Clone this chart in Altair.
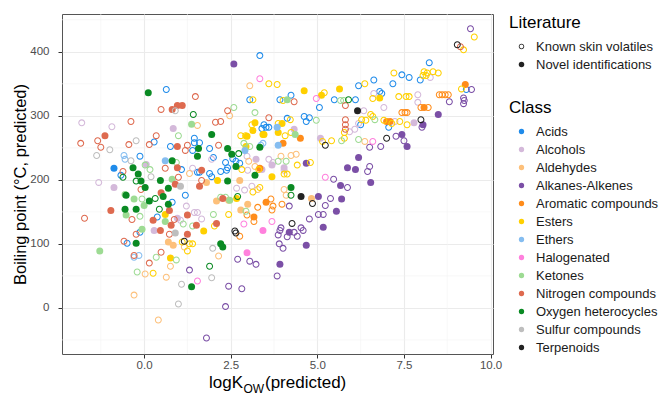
import altair as alt
import pandas as pd

CLASSES = ["Acids", "Alcohols", "Aldehydes", "Alkanes-Alkenes", "Aromatic compounds",
           "Esters", "Ethers", "Halogenated", "Ketones", "Nitrogen compounds",
           "Oxygen heterocycles", "Sulfur compounds", "Terpenoids"]
COLORS = ["#1F8BEA", "#D4B9DA", "#FDC07A", "#7B4FA6", "#FF8C1A",
          "#FFD000", "#85BDF0", "#FF80DD", "#9DDB93", "#DE6A4F",
          "#0A8A23", "#BEBEBE", "#222222"]
LITERATURE = ["Known skin volatiles", "Novel identifications"]

X_MAJOR = [0, 2.5, 5, 7.5, 10]
X_MINOR = [-1.25, 1.25, 3.75, 6.25, 8.75]
Y_MAJOR = [0, 100, 200, 300, 400]
Y_MINOR = [-50, 50, 150, 250, 350, 450]
X_DOMAIN = [-2.37, 10.07]
Y_DOMAIN = [-72, 459]

# (logKow, boiling point) pairs
ACIDS_NOVEL = [(-0.87, 218)]
ACIDS_KNOWN = [(0.64, 341), (0.29, 259), (0.76, 252), (1.45, 265), (1.45, 258), (1.6, 258), (1.4, 246),
               (-0.12, 237), (1.08, 216), (-0.67, 207), (1.54, 212), (1.6, 212), (3.34, 394), (4.24, 332),
               (3.92, 325), (3.05, 325), (4.62, 299), (4.77, 297), (4.68, 291), (4.13, 296), (5.06, 313),
               (5.49, 325), (3.46, 286), (3.52, 282), (3.6, 282), (3.4, 280), (1.89, 249), (2.0, 235),
               (2.35, 227), (2.41, 219), (2.38, 215), (2.65, 229), (2.76, 226), (2.56, 233), (1.89, 210),
               (1.95, 205), (2.21, 213), (8.23, 383), (7.97, 356), (7.44, 364), (7.65, 360), (7.18, 350),
               (6.63, 356), (6.19, 347), (6.1, 325), (6.8, 338), (6.86, 335), (9.3, 341), (6.25, 286),
               (7.06, 282), (-0.49, 101), (-0.12, 118), (0.38, 142), (0.81, 165), (1.19, 176)]
ALCOHOLS_NOVEL = [(0.84, 280), (0.06, 224), (4.33, 279), (3.23, 232), (3.69, 223), (4.04, 219), (3.4, 216),
                  (5.09, 265), (7.79, 289), (-0.87, 188), (0.29, 121), (0.96, 140)]
ALCOHOLS_KNOWN = [(-1.8, 289), (-0.93, 283), (1.4, 218), (2.97, 237), (1.95, 232), (3.6, 232), (3.72, 227),
                  (2.99, 215), (4.04, 215), (5.93, 275), (8.26, 360), (7.9, 333), (7.9, 321), (6.92, 313),
                  (6.34, 308), (7.24, 291), (6.19, 288), (6.08, 279), (6.63, 335), (2.67, 187), (2.9, 184),
                  (3.11, 190), (1.05, 137), (1.45, 149), (1.54, 149), (1.66, 139), (1.22, 159), (-1.31, 196)]
ALDEHYDES_NOVEL = [(2.76, 199), (4.83, 171), (2.99, 162), (2.79, 153), (2.44, 168), (2.09, 167), (0.7, 103),
                   (0.84, 98), (1.8, 196)]
ALDEHYDES_KNOWN = [(1.54, 285), (1.31, 210), (3.05, 347), (2.47, 300), (3.02, 229), (3.2, 221), (3.95, 237),
                   (4.24, 238), (4.39, 240), (6.37, 260), (4.04, 185), (4.1, 176), (2.15, 81), (-0.29, 20),
                   (0.03, 53), (0.41, -19), (0.64, 48), (0.76, 65), (1.16, 95), (3.28, 185)]
ALKANES_NOVEL = [(2.59, 381), (4.68, 226), (5.87, 219), (8.49, 302), (8.05, 286), (7.44, 271), (7.59, 252),
                 (6.19, 235), (6.1, 216), (6.54, 196), (5.03, 174), (5.7, 170), (5.67, 191), (5.55, 151),
                 (5.17, 126), (4.68, 98), (4.19, 118), (3.92, 68)]
ALKANES_KNOWN = [(9.42, 436), (8.81, 322), (9.22, 328), (9.24, 324), (9.22, 319), (9.45, 341), (8.02, 282),
                 (7.27, 268), (7.5, 261), (6.83, 252), (6.51, 251), (6.51, 221), (6.45, 213), (5.47, 201),
                 (5.38, 171), (5.87, 188), (5.23, 160), (5.03, 146), (5.17, 146), (4.77, 139), (3.95, 125),
                 (3.92, 121), (3.87, 114), (4.13, 111), (4.33, 118), (4.42, 112), (4.53, 125), (4.59, 121),
                 (3.9, 100), (4.01, 93), (3.84, 50), (2.7, 76), (3.05, 73), (3.23, 68), (2.44, 34), (2.82, 30),
                 (2.35, 2), (1.8, -47), (1.31, 59), (4.19, 159)]
AROMATIC_NOVEL = [(4.51, 265), (4.01, 257), (3.34, 218), (9.27, 349), (8.08, 313), (7.0, 291), (7.1, 291),
                  (3.52, 165), (3.17, 142)]
AROMATIC_KNOWN = [(8.52, 333), (8.6, 333), (8.69, 333), (8.78, 333), (7.44, 305), (7.53, 305), (7.59, 305),
                  (7.99, 313), (8.2, 313), (3.66, 170), (3.72, 159), (3.69, 153), (3.98, 162), (3.28, 157),
                  (2.97, 145), (3.17, 135), (2.76, 112)]
ESTERS_NOVEL = [(4.62, 339), (5.64, 342), (5.12, 332), (3.2, 289), (3.98, 288), (3.14, 277), (3.43, 271),
                (3.46, 271), (3.87, 274), (2.97, 268), (2.94, 252), (3.69, 205), (2.12, 199), (6.8, 328),
                (2.67, 171), (0.76, 78), (0.61, 146), (1.72, 120)]
ESTERS_KNOWN = [(3.6, 350), (3.84, 349), (5.2, 336), (3.14, 325), (4.01, 324), (3.11, 286), (3.87, 288),
                (4.22, 294), (2.79, 269), (2.93, 269), (4.07, 269), (4.24, 274), (2.82, 216), (3.31, 216),
                (4.8, 227), (4.42, 223), (4.04, 209), (4.13, 209), (5.15, 260), (5.41, 261), (5.78, 265),
                (5.78, 274), (9.53, 423), (9.22, 403), (8.08, 369), (8.17, 367), (8.34, 369), (8.49, 367),
                (8.05, 363), (8.14, 363), (7.21, 367), (6.37, 350), (6.6, 327), (7.35, 330), (7.56, 330),
                (7.65, 330), (9.16, 342), (6.54, 302), (6.6, 299), (6.28, 294), (6.4, 293), (6.92, 293),
                (7.38, 291), (7.15, 288), (7.59, 286), (2.44, 146), (2.03, 128), (3.14, 181), (3.34, 188),
                (0.26, 54), (1.1, 103), (1.31, 100), (1.4, 100), (1.25, 89)]
ETHERS_NOVEL = [(0.61, 230), (3.84, 282), (3.87, 254), (2.91, 246)]
ETHERS_KNOWN = [(-0.58, 238), (-0.55, 232), (-0.29, 79), (-0.15, 82), (3.37, 254), (3.43, 257)]
HALOGENATED_NOVEL = [(2.97, 86), (3.43, 121)]
HALOGENATED_KNOWN = [(3.34, 358), (4.97, 327), (5.23, 204), (6.6, 260), (1.54, 42), (2.88, 131), (3.69, 135)]
KETONES_NOVEL = [(1.37, 287), (4.13, 325), (4.36, 271), (-1.28, 89), (-0.55, 177), (-0.29, 170),
                 (-0.52, 145), (0.0, 160), (0.61, 135), (-0.06, 123), (0.81, 201), (2.47, 168)]
KETONES_KNOWN = [(0.99, 269), (0.03, 223), (0.93, 227), (0.17, 216), (2.59, 313), (3.2, 305), (4.97, 293),
                 (5.67, 324), (5.76, 324), (2.88, 257), (3.05, 252), (3.87, 229), (4.1, 229), (5.7, 261),
                 (6.66, 294), (6.19, 263), (-0.06, 170), (-0.12, 143), (-0.2, 56), (0.35, 79), (0.93, 75),
                 (1.13, 131), (1.4, 128), (2.21, 173), (2.35, 173), (2.0, 146), (2.94, 151)]
NITROGEN_NOVEL = [(0.96, 316), (1.10, 316), (0.81, 310), (-1.13, 269), (0.96, 252), (0.96, 219), (1.66, 215),
                  (-0.96, 152), (0.26, 137), (0.47, 121), (0.78, 129), (0.73, 152), (1.25, 145), (1.51, 129),
                  (1.25, 115), (0.49, 180), (0.9, 193), (1.6, 190), (2.09, 132), (2.27, 171)]
NITROGEN_KNOWN = [(1.48, 330), (0.49, 310), (-0.38, 291), (-1.83, 257), (-1.34, 261), (-1.25, 251),
                  (-0.44, 255), (0.35, 269), (0.15, 255), (1.25, 254), (1.19, 246), (-0.61, 213), (0.61, 218),
                  (0.99, 204), (1.66, 199), (4.33, 322), (5.81, 316), (2.41, 308), (3.6, 297), (2.06, 290),
                  (2.21, 291), (2.15, 254), (5.81, 294), (5.81, 286), (5.81, 279), (9.13, 408), (-1.72, 140),
                  (-0.35, 138), (-0.23, 115), (-0.58, 104), (-0.29, 82), (0.15, 70), (0.49, 87), (-0.09, 185),
                  (0.73, 115), (0.87, 138)]
OXY_NOVEL = [(0.12, 336), (1.57, 249), (1.54, 237), (-0.32, 219), (0.81, 230), (-0.17, 209), (-0.09, 198),
             (0.47, 199), (1.95, 271), (2.41, 249), (2.53, 240), (2.65, 221), (3.34, 251), (3.2, 207),
             (2.41, 198), (4.24, 188), (-0.55, 154), (-0.23, 154), (0.15, 167), (0.55, 174), (0.7, 187),
             (0.7, 162), (-0.52, 176), (0.03, 188), (-0.23, 101), (1.37, 33), (2.21, 100), (2.27, 95)]
OXY_KNOWN = [(1.42, 302), (-0.61, 204), (-0.23, 198), (2.73, 241), (5.9, 325), (4.24, 176), (0.32, 171),
             (0.44, 154), (1.89, 65), (2.7, 174)]
SULFUR_NOVEL = [(0.9, 117), (1.05, 190)]
SULFUR_KNOWN = [(0.9, 308), (-0.99, 247), (-1.37, 238), (-0.23, 261), (-0.38, 230), (0.2, 205), (1.08, 37),
                (0.99, 6), (1.98, 93), (1.95, 47)]
TERPENOIDS_NOVEL = [(6.16, 308), (4.53, 174)]
TERPENOIDS_KNOWN = [(9.04, 411), (7.99, 294), (7.0, 265), (5.23, 254), (4.86, 163), (4.27, 132), (2.65, 117),
                    (1.16, 104), (2.62, 120)]

GROUPS = [
    ("Acids", ACIDS_KNOWN, ACIDS_NOVEL),
    ("Alcohols", ALCOHOLS_KNOWN, ALCOHOLS_NOVEL),
    ("Aldehydes", ALDEHYDES_KNOWN, ALDEHYDES_NOVEL),
    ("Alkanes-Alkenes", ALKANES_KNOWN, ALKANES_NOVEL),
    ("Aromatic compounds", AROMATIC_KNOWN, AROMATIC_NOVEL),
    ("Esters", ESTERS_KNOWN, ESTERS_NOVEL),
    ("Ethers", ETHERS_KNOWN, ETHERS_NOVEL),
    ("Halogenated", HALOGENATED_KNOWN, HALOGENATED_NOVEL),
    ("Ketones", KETONES_KNOWN, KETONES_NOVEL),
    ("Nitrogen compounds", NITROGEN_KNOWN, NITROGEN_NOVEL),
    ("Oxygen heterocycles", OXY_KNOWN, OXY_NOVEL),
    ("Sulfur compounds", SULFUR_KNOWN, SULFUR_NOVEL),
    ("Terpenoids", TERPENOIDS_KNOWN, TERPENOIDS_NOVEL),
]

rows = []
for cls, known, novel in GROUPS:
    for x, y in known:
        rows.append({"logkow": x, "bp": y, "cls": cls, "lit": LITERATURE[0]})
    for x, y in novel:
        rows.append({"logkow": x, "bp": y, "cls": cls, "lit": LITERATURE[1]})
df = pd.DataFrame(rows)

W, H = 431, 340
FONT = "Liberation Sans"
# hollow circle (ring) drawn as a filled path, and a solid circle
RING = ("M -1 0 A 1 1 0 1 1 1 0 A 1 1 0 1 1 -1 0 Z "
        "M -0.7 0 A 0.7 0.7 0 1 0 0.7 0 A 0.7 0.7 0 1 0 -0.7 0 Z")

xscale = alt.Scale(domain=X_DOMAIN, nice=False, zero=False)
yscale = alt.Scale(domain=Y_DOMAIN, nice=False, zero=False)
xaxis = alt.Axis(values=X_MAJOR, format=".1f", title=None, grid=True, gridColor="#EBEBEB", gridWidth=1.1,
                 domain=False, tickColor="#333333", tickSize=4, labelFontSize=11.5, labelColor="#4D4D4D",
                 labelPadding=1, labelFlush=False, labelFont=FONT)
yaxis = alt.Axis(values=Y_MAJOR, format="d", title="Boiling point (°C, predicted)", grid=True,
                 gridColor="#EBEBEB", gridWidth=1.1, domain=False, tickColor="#333333", tickSize=4,
                 labelFontSize=11.5, labelColor="#4D4D4D", labelPadding=9, labelFlush=False, labelFont=FONT,
                 titleFont=FONT, titleFontSize=16.5, titleFontWeight="normal", titleColor="#000000",
                 titlePadding=1)

minor_x = alt.Chart(pd.DataFrame({"v": X_MINOR})).mark_rule(color="#F4F4F4", strokeWidth=0.6).encode(
    x=alt.X("v:Q", scale=xscale, axis=xaxis))
minor_y = alt.Chart(pd.DataFrame({"v": Y_MINOR})).mark_rule(color="#F4F4F4", strokeWidth=0.6).encode(
    y=alt.Y("v:Q", scale=yscale, axis=yaxis))

cscale = alt.Scale(domain=CLASSES, range=COLORS)
points = alt.Chart(df).mark_point(filled=True, size=49, strokeWidth=0, opacity=1, fillOpacity=1).encode(
    x=alt.X("logkow:Q", scale=xscale, axis=xaxis),
    y=alt.Y("bp:Q", scale=yscale, axis=yaxis),
    fill=alt.Fill("cls:N", scale=cscale, sort=CLASSES,
                  legend=alt.Legend(title="Class", orient="none", legendX=447, legendY=86,
                                    symbolType="circle", symbolStrokeWidth=0, symbolSize=28)),
    shape=alt.Shape("lit:N", scale=alt.Scale(domain=LITERATURE, range=[RING, "circle"]),
                    legend=alt.Legend(title="Literature", orient="none", legendX=447, legendY=1,
                                      symbolFillColor="#222222", symbolStrokeWidth=0, symbolSize=30)),
)

t1 = alt.Chart(pd.DataFrame({"t": ["logK"]})).mark_text(
    align="left", baseline="alphabetic", fontSize=17, font=FONT, color="#000000").encode(
    text="t:N", x=alt.value(147), y=alt.value(374))
t2 = alt.Chart(pd.DataFrame({"t": ["OW"]})).mark_text(
    align="left", baseline="alphabetic", fontSize=12, font=FONT, color="#000000").encode(
    text="t:N", x=alt.value(181.5), y=alt.value(379))
t3 = alt.Chart(pd.DataFrame({"t": ["(predicted)"]})).mark_text(
    align="left", baseline="alphabetic", fontSize=17, font=FONT, color="#000000").encode(
    text="t:N", x=alt.value(203), y=alt.value(374))

chart = alt.layer(minor_x, minor_y, points, t1, t2, t3).properties(
    width=W, height=H,
    autosize=alt.AutoSizeParams(type="none"),
    padding={"left": 54, "top": 6, "right": 169, "bottom": 42},
).configure(font=FONT).configure_view(
    stroke="#555555", strokeWidth=1
).configure_legend(
    titleFontSize=17, titleFontWeight="normal", titleColor="#000000", titleFont=FONT,
    labelFontSize=13, labelColor="#1A1A1A", labelFont=FONT, rowPadding=4, padding=0,
    titlePadding=8, symbolOffset=6, labelOffset=8
)

chart.save("out.html", embed_options={"renderer": "svg", "actions": False})
